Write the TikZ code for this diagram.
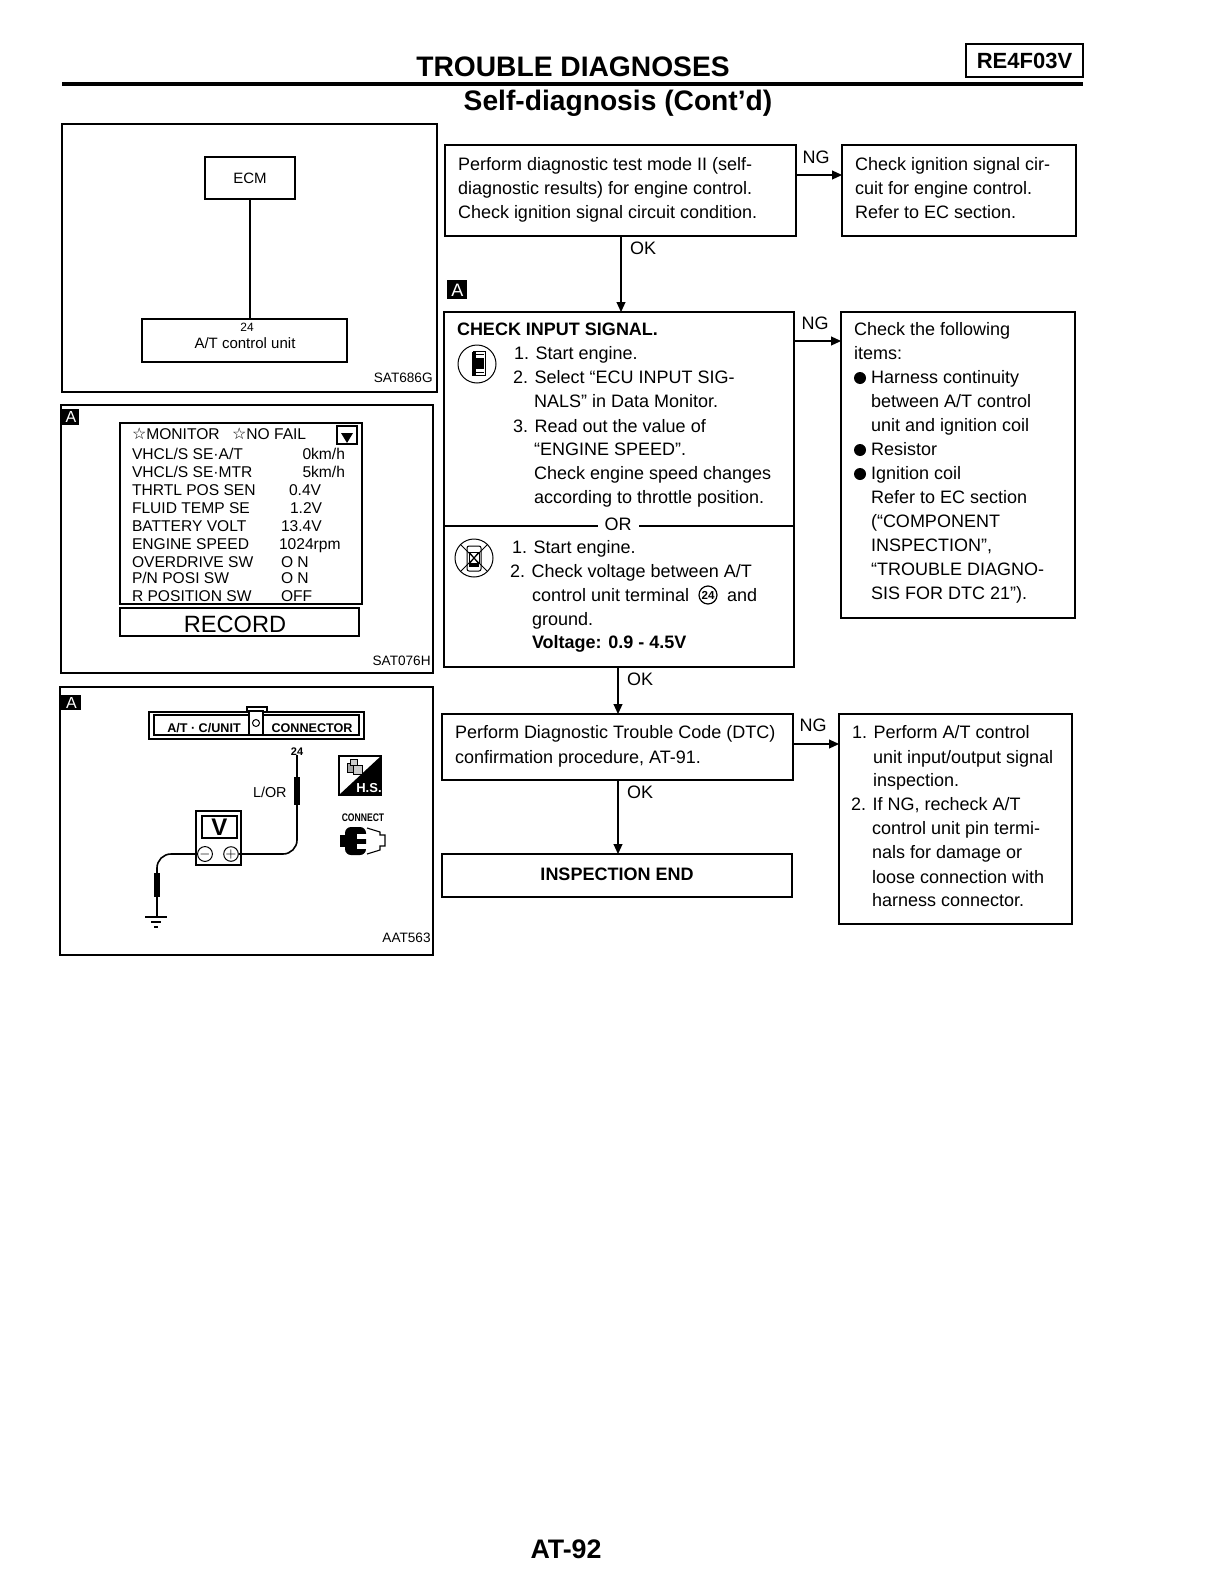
\documentclass[tikz,border=0pt]{standalone}
\usepackage{fontspec}
\setmainfont{Liberation Sans}
\newfontfamily\djv{DejaVu Sans}
\usetikzlibrary{arrows.meta}
\newcommand{\fs}[1]{\fontsize{#1}{#1}\selectfont}
\tikzset{
  x=0.5pt,y=0.5pt,
  wh/.style 2 args={minimum width=#1*0.5pt,minimum height=#2*0.5pt,anchor=north west,inner sep=0pt,outer sep=0pt},
  boxs/.style={draw=black,line width=0.55pt},
  tx/.style={font=\fs{9},anchor=base west,inner sep=0pt,outer sep=0pt},
  bt/.style={tx,font=\fs{9}\bfseries},
  mon/.style={tx,font=\fs{7.8}},
  code/.style={font=\fs{6.8},anchor=base east,inner sep=0pt},
  ctr/.style={anchor=base,inner sep=0pt,outer sep=0pt},
  badge/.style={fill=black,text=white,inner sep=0pt,anchor=north west},
  arr/.style={line width=0.55pt,-{Triangle[length=5pt,width=4.5pt]}},
  ln/.style={line width=0.55pt},
  wire/.style={line width=0.8pt},
  probe/.style={line width=2.6pt},
  pole/.style={circle,draw=black,line width=0.5pt,minimum size=6pt,inner sep=0pt,font=\fs{6}},
}
\begin{document}
\begin{tikzpicture}
\fill[white] (0,0) rectangle (1210,-1584);
\useasboundingbox (0,0) rectangle (1210,-1584);
% header
\node[ctr,font=\fs{14.1}\bfseries] (title) at (573,-76) {TROUBLE DIAGNOSES};
\node[ctr,font=\fs{14.1}\bfseries] (sub) at (618,-111) {Self-diagnosis (Cont’d)};
\fill[black] (62,-82) rectangle (1083,-86);
\node[boxs,line width=0.9pt,wh={117}{33},font=\fs{11}\bfseries] (tag) at (966,-44) {RE4F03V};
\node[ctr,font=\fs{13.4}\bfseries] (page) at (566,-1558) {AT-92};

% panel 1
\node[boxs,wh={375}{268}] (p1) at (62,-124) {};
\node[boxs,wh={90}{42},font=\fs{7.5}] (ecm) at (205,-157) {ECM};
\node[boxs,wh={205}{43}] (atu) at (142,-319) {};
\node[ctr,font=\fs{6}] (n24a) at (247,-331) {24};
\node[ctr,font=\fs{7.5}] (atul) at (245,-348) {A/T control unit};
\draw[ln] (ecm.south) -- (ecm.south |- atu.north);
\node[code] (c1) at (433,-382) {SAT686G};

% panel 2
\node[boxs,wh={372}{268}] (p2) at (61,-405) {};
\node[badge,minimum width=8.5pt,minimum height=8pt,font=\fs{8}] (ba2) at (62,-409) {A};
\node[boxs,wh={242}{181}] (mon) at (120,-423) {};
\node[boxs,wh={239}{28}] (rec) at (120,-608) {};
\node[ctr,font=\fs{11.8}] (recl) at (235,-632) {RECORD};
\node[boxs,wh={20}{18}] (btn) at (337,-426) {};
\fill[black] (341,-433) -- (353,-433) -- (347,-443) -- cycle;
\node[mon] (m0) at (132,-439) {{\djv\fs{8}☆}MONITOR};
\node[mon] (m0b) at (232,-439) {{\djv\fs{8}☆}NO FAIL};
\node[mon] (m1) at (132,-459) {VHCL/S SE·A/T};
\node[mon] (m2) at (132,-477) {VHCL/S SE·MTR};
\node[mon] (m3) at (132,-495) {THRTL POS SEN};
\node[mon] (m4) at (132,-513) {FLUID TEMP SE};
\node[mon] (m5) at (132,-531) {BATTERY VOLT};
\node[mon] (m6) at (132,-549) {ENGINE SPEED};
\node[mon] (m7) at (132,-567) {OVERDRIVE SW};
\node[mon] (m8) at (132,-583) {P/N POSI SW};
\node[mon] (m9) at (132,-601) {R POSITION SW};
\node[mon,anchor=base east] (v1) at (345,-459) {0km/h};
\node[mon,anchor=base east] (v2) at (345,-477) {5km/h};
\node[mon] (v3) at (289,-495) {0.4V};
\node[mon] (v4) at (290,-513) {1.2V};
\node[mon] (v5) at (281,-531) {13.4V};
\node[mon] (v6) at (279,-549) {1024rpm};
\node[mon] (v7) at (281,-567) {O N};
\node[mon] (v8) at (281,-583) {O N};
\node[mon] (v9) at (281,-601) {OFF};
\node[code] (c2) at (431,-665) {SAT076H};

% panel 3
\node[boxs,wh={373}{268}] (p3) at (60,-687) {};
\node[badge,minimum width=10pt,minimum height=7.5pt,font=\fs{8}] (ba3) at (61,-695) {A};
\node[boxs,wh={215}{27}] (conn) at (149,-712) {};
\node[boxs,wh={205}{20}] (conni) at (154,-715) {};
\node[boxs,wh={20}{5}] (tab) at (247,-707) {};
\node[boxs,wh={14}{24},fill=white] (cell) at (249,-711) {};
\node[circle,draw=black,line width=0.5pt,minimum size=3.5pt,inner sep=0pt] (pin) at (256,-723) {};
\node[ctr,font=\fs{6.3}\bfseries] (cl1) at (204,-732) {A/T · C/UNIT};
\node[ctr,font=\fs{6.3}\bfseries] (cl2) at (312,-732) {CONNECTOR};
\node[ctr,font=\fs{5.5}\bfseries] (n24b) at (297,-755) {24};
\node[tx,font=\fs{7.2}] (lor) at (253,-797) {L/OR};
\node[boxs,wh={45}{54}] (meter) at (196,-811) {};
\node[boxs,wh={35}{22},font=\fs{12}\bfseries] (disp) at (202,-816) {V};
\node[pole] (minus) at (205,-854) {$-$};
\node[pole] (plus) at (231,-854) {$+$};
\coordinate (gnd) at (157,-917);
\draw[wire,rounded corners=7pt] (plus.east) -| (n24b.south);
\draw[wire,rounded corners=7pt] (minus.west) -| (gnd);
\draw[probe] (297,-777) -- (297,-805);
\draw[probe] (157,-873) -- (157,-897);
\draw[line width=0.8pt] (145,-917) -- (167,-917);
\draw[ln] (151,-922) -- (161,-922);
\draw[ln] (154,-927) -- (158,-927);
% H.S. icon
\draw[ln] (339,-756) rectangle (381,-795);
\fill[black] (381,-756) -- (381,-795) -- (339,-795) -- cycle;
\node[ctr,text=white,font=\fs{6.5}\bfseries] (hs) at (369,-792) {H.S.};
\draw[line width=0.4pt,fill=gray!70] (347,-763) rectangle (354,-772);
\draw[line width=0.4pt,fill=gray!40] (353,-765) rectangle (362,-774);
\draw[line width=0.4pt,fill=gray!40] (350,-759) rectangle (357,-765);
\node[ctr,font=\fs{5.5}\bfseries,xscale=0.78] (conl) at (363,-821) {CONNECT};
% connector icon
\fill[black,rounded corners=3pt] (345,-827) rectangle (366,-855);
\fill[black] (340,-835) rectangle (347,-847);
\fill[white] (357,-834) rectangle (367,-839);
\fill[white] (357,-844) rectangle (367,-849);
\draw[ln] (367,-828) -- (380,-832) -- (380,-835) -- (385,-835) -- (385,-846) -- (380,-846) -- (380,-850) -- (367,-854);
\node[code] (c3) at (431,-942) {AAT563};

% flow boxes
\node[boxs,wh={351}{91}] (b1) at (445,-145) {};
\node[boxs,wh={234}{91}] (b2) at (842,-145) {};
\node[boxs,wh={350}{355}] (b3) at (444,-312) {};
\node[boxs,wh={234}{306}] (b3r) at (841,-312) {};
\node[boxs,wh={351}{66}] (b4) at (442,-714) {};
\node[boxs,wh={233}{210}] (b5) at (839,-714) {};
\node[boxs,wh={350}{43},font=\fs{9}\bfseries] (b6) at (442,-854) {\raisebox{1pt}{INSPECTION END}};
\node[badge,minimum width=10pt,minimum height=9.5pt,font=\fs{9}] (ba1) at (447,-280) {A};

\coordinate (ng1) at (0,-175);
\coordinate (ng2) at (0,-341);
\coordinate (ng3) at (0,-744);
\coordinate (ok1) at (621,0);
\coordinate (ok2) at (618,0);
\draw[arr] (b1.east |- ng1) -- (b2.west |- ng1);
\draw[arr] (b3.east |- ng2) -- (b3r.west |- ng2);
\draw[arr] (b4.east |- ng3) -- (b5.west |- ng3);
\draw[arr] (b1.south -| ok1) -- (b3.north -| ok1);
\draw[arr] (b3.south -| ok2) -- (b4.north -| ok2);
\draw[arr] (b4.south -| ok2) -- (b6.north -| ok2);
\node[ctr,font=\fs{9}] (ng1l) at (816,-163) {NG};
\node[ctr,font=\fs{9}] (ng2l) at (815,-329) {NG};
\node[ctr,font=\fs{9}] (ng3l) at (813,-731) {NG};
\node[ctr,font=\fs{9}] (ok1l) at (643,-254) {OK};
\node[ctr,font=\fs{9}] (ok2l) at (640,-685) {OK};
\node[ctr,font=\fs{9}] (ok3l) at (640,-798) {OK};

% b1, b2 text
\node[tx] (a1) at (458,-170) {Perform diagnostic test mode II (self-};
\node[tx] (a2) at (458,-194) {diagnostic results) for engine control.};
\node[tx] (a3) at (458,-218) {Check ignition signal circuit condition.};
\node[tx] (d1) at (855,-170) {Check ignition signal cir-};
\node[tx] (d2) at (855,-194) {cuit for engine control.};
\node[tx] (d3) at (855,-218) {Refer to EC section.};

% b3 text
\node[bt] (e0) at (457,-335) {CHECK INPUT SIGNAL.};
\node[tx] (e1) at (514,-359) {1. Start engine.};
\node[tx] (e2) at (513,-383) {2. Select “ECU INPUT SIG-};
\node[tx] (e3) at (534,-407) {NALS” in Data Monitor.};
\node[tx] (e4) at (513,-432) {3. Read out the value of};
\node[tx] (e5) at (534,-455) {“ENGINE SPEED”.};
\node[tx] (e6) at (534,-479) {Check engine speed changes};
\node[tx] (e7) at (534,-503) {according to throttle position.};
\coordinate (orc) at (0,-526);
\draw[ln] (b3.west |- orc) -- (b3.east |- orc);
\node[ctr,fill=white,font=\fs{9},inner xsep=3.5pt,inner ysep=1pt] (orl) at (618,-530) {OR};
\node[tx] (f1) at (512,-553) {1. Start engine.};
\node[tx] (f2) at (510,-577) {2. Check voltage between A/T};
\node[tx] (f3) at (532,-601) {control unit terminal};
\node[circle,draw=black,line width=0.6pt,minimum size=9pt,inner sep=0pt,font=\fs{5.8}\bfseries] (f3c) at (708,-595) {24};
\node[tx] (f3b) at (727,-601) {and};
\node[tx] (f4) at (532,-625) {ground.};
\node[bt] (f5) at (532,-648) {Voltage: 0.9 - 4.5V};

% b3 icons
\node[circle,draw=black,line width=0.5pt,minimum size=19pt,inner sep=0pt] (ic1) at (477,-364) {};
\fill[black] (472,-352) rectangle (476,-376);
\draw[line width=0.5pt] (473,-351) rectangle (485,-375);
\fill[black] (476,-358) rectangle (484,-369);
\draw[line width=0.4pt] (476,-354) -- (484,-354);
\draw[line width=0.4pt] (476,-372) -- (484,-372);
\node[circle,draw=black,line width=0.5pt,minimum size=19pt,inner sep=0pt] (ic2) at (474,-558) {};
\draw[line width=0.4pt] (ic2.north west) -- (ic2.south east);
\draw[line width=0.4pt] (ic2.north east) -- (ic2.south west);
\draw[line width=0.5pt,rounded corners=1pt] (467,-546) rectangle (481,-571);
\draw[line width=0.5pt] (469,-552) rectangle (479,-563);
\draw[line width=0.5pt] (470,-553) -- (478,-563);
\draw[line width=0.5pt] (478,-553) -- (470,-563);
\fill[black] (469,-563) rectangle (479,-567);

% b3r text
\node[tx] (g1) at (854,-335) {Check the following};
\node[tx] (g2) at (854,-359) {items:};
\node[circle,fill=black,minimum size=6pt,inner sep=0pt] (h1) at (860,-378) {};
\node[tx] (g3) at (871,-383) {Harness continuity};
\node[tx] (g4) at (871,-407) {between A/T control};
\node[tx] (g5) at (871,-431) {unit and ignition coil};
\node[circle,fill=black,minimum size=6pt,inner sep=0pt] (h2) at (860,-450) {};
\node[tx] (g6) at (871,-455) {Resistor};
\node[circle,fill=black,minimum size=6pt,inner sep=0pt] (h3) at (860,-474) {};
\node[tx] (g7) at (871,-479) {Ignition coil};
\node[tx] (g8) at (871,-503) {Refer to EC section};
\node[tx] (g9) at (871,-527) {(“COMPONENT};
\node[tx] (g10) at (871,-551) {INSPECTION”,};
\node[tx] (g11) at (871,-575) {“TROUBLE DIAGNO-};
\node[tx] (g12) at (871,-599) {SIS FOR DTC 21”).};

% b4, b5 text
\node[tx] (i1) at (455,-738) {Perform Diagnostic Trouble Code (DTC)};
\node[tx] (i2) at (455,-763) {confirmation procedure, AT-91.};
\node[tx] (j1) at (852,-738) {1. Perform A/T control};
\node[tx] (j2) at (873,-763) {unit input/output signal};
\node[tx] (j3) at (873,-786) {inspection.};
\node[tx] (j4) at (851,-810) {2. If NG, recheck A/T};
\node[tx] (j5) at (872,-834) {control unit pin termi-};
\node[tx] (j6) at (872,-858) {nals for damage or};
\node[tx] (j7) at (872,-883) {loose connection with};
\node[tx] (j8) at (872,-906) {harness connector.};
\end{tikzpicture}
\end{document}
